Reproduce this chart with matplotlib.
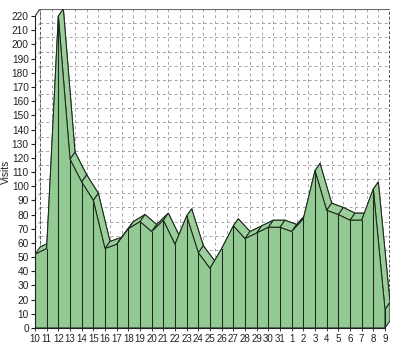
import matplotlib
matplotlib.use("Agg")
import matplotlib.pyplot as plt
from matplotlib.patches import Polygon

# daily visits, 10th of one month through the 9th of the next
days = ["10", "11", "12", "13", "14", "15", "16", "17", "18", "19", "20",
        "21", "22", "23", "24", "25", "26", "27", "28", "29", "30", "31",
        "1", "2", "3", "4", "5", "6", "7", "8", "9"]
visits = [52, 56, 220, 119, 103, 90, 56, 59, 70, 75, 68,
          76, 59, 79, 53, 42, 56, 72, 63, 67, 71, 71,
          68, 77, 111, 83, 80, 76, 76, 98, 13]
y_ticks = list(range(0, 221, 10))

# pseudo 3d depth (in data units)
DX = 0.43
DY = 5.0
FRONT = "#93c993"
TOP = "#9ccf9c"
EDGE = "#1c2a1c"
GRID = "#a4a4a4"
LW = 0.75

plt.rcParams["font.family"] = ["Liberation Sans", "DejaVu Sans"]

fig = plt.figure(figsize=(4.0, 3.45), dpi=100)
ax = fig.add_axes([0.0875, 0.0493, 0.8875, 0.9246])
n = len(visits)
xs = list(range(n))
ymax = y_ticks[-1]
ax.set_xlim(0, xs[-1] + DX)
ax.set_ylim(0, ymax + DY)

# back wall grid
gkw = dict(color=GRID, lw=0.7, dashes=(3, 3), zorder=1)
for v in y_ticks:
    ax.plot([DX, xs[-1] + DX], [v + DY, v + DY], **gkw)
    ax.plot([0, DX], [v, v + DY], **gkw)
for x in xs:
    ax.plot([x + DX, x + DX], [DY, ymax + DY], **gkw)
ax.plot([DX, DX], [DY, ymax + DY], color="#555555", lw=0.7, dashes=(3, 2), zorder=1)
ax.plot([xs[-1] + DX, xs[-1] + DX], [DY, ymax + DY], color="#555555",
        lw=1.4, dashes=(1.5, 1), zorder=1)
ax.plot([DX, xs[-1] + DX], [ymax + DY, ymax + DY], color="#666666", lw=1.5, zorder=1)
ax.plot([0, DX], [ymax, ymax + DY], color="#555555", lw=1.0, zorder=1)

# back face
back = [(xs[0] + DX, DY)] + [(x + DX, v + DY) for x, v in zip(xs, visits)] + [(xs[-1] + DX, DY)]
ax.add_patch(Polygon(back, closed=True, fc=FRONT, ec=EDGE, lw=LW, zorder=2))

# top bands
for i in range(n - 1):
    quad = [(xs[i], visits[i]), (xs[i + 1], visits[i + 1]),
            (xs[i + 1] + DX, visits[i + 1] + DY), (xs[i] + DX, visits[i] + DY)]
    ax.add_patch(Polygon(quad, closed=True, fc=TOP, ec=EDGE, lw=LW, zorder=3))

# right end side
side = [(xs[-1], 0), (xs[-1], visits[-1]), (xs[-1] + DX, visits[-1] + DY), (xs[-1] + DX, DY)]
ax.add_patch(Polygon(side, closed=True, fc=FRONT, ec=EDGE, lw=LW, zorder=3))

# front face
front = [(xs[0], 0)] + list(zip(xs, visits)) + [(xs[-1], 0)]
ax.add_patch(Polygon(front, closed=True, fc=FRONT, ec=EDGE, lw=LW, zorder=4))
for x, v in zip(xs, visits):
    ax.plot([x, x], [0, v], color=EDGE, lw=LW, zorder=5)

ax.spines["top"].set_visible(False)
ax.spines["right"].set_visible(False)
ax.spines["left"].set_bounds(0, ymax)
ax.spines["bottom"].set_bounds(0, xs[-1])
ax.spines["left"].set_color("#222222")
ax.spines["bottom"].set_color("#222222")
ax.spines["left"].set_zorder(6)
ax.spines["bottom"].set_zorder(6)

ax.set_yticks(y_ticks)
ax.set_yticklabels([str(v) for v in y_ticks], fontsize=7.3)
ax.set_xticks(xs)
ax.set_xticklabels(days, fontsize=7)
ax.tick_params(axis="y", length=3, width=0.8, pad=1.5, colors="#222222")
ax.tick_params(axis="x", length=2, width=0.6, pad=2, colors="#222222")
ax.set_ylabel("Visits", fontsize=7.3, color="#222222")
ax.yaxis.set_label_coords(-0.068, 0.49)

fig.savefig("out.png", dpi=100)
